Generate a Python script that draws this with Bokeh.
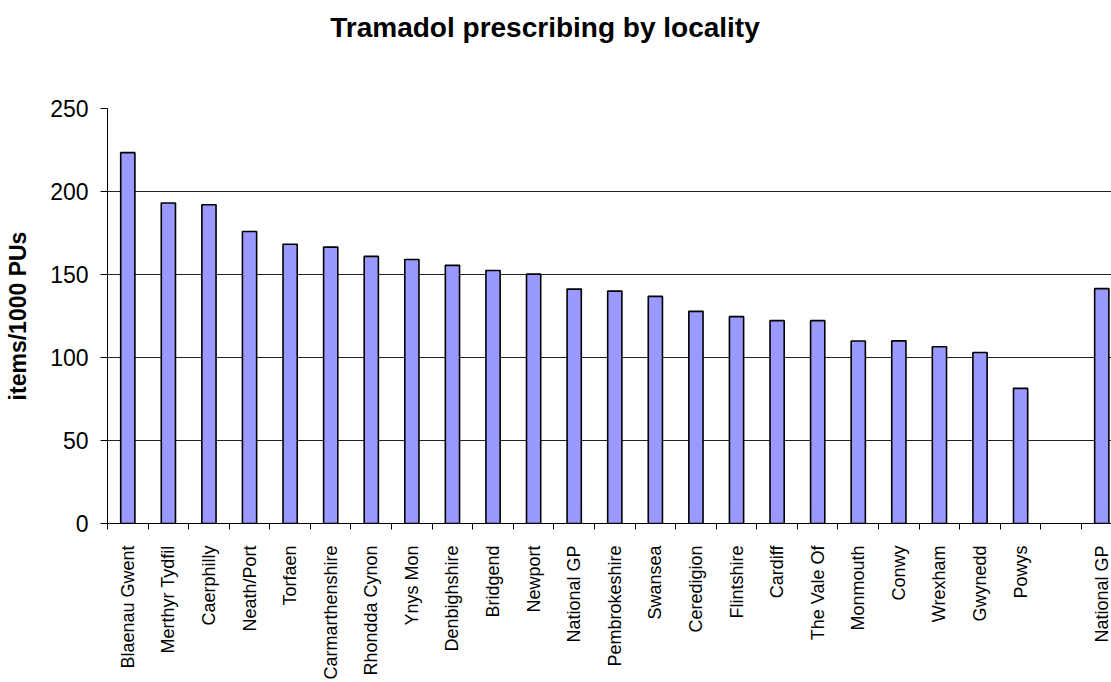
import math
from bokeh.plotting import figure
from bokeh.models import Range1d, FixedTicker, ColumnDataSource, Div
from bokeh.layouts import column
from bokeh.embed import file_html
from bokeh.resources import INLINE

title_text = "Tramadol prescribing by locality"
y_title = "items/1000 PUs"
categories = ["Blaenau Gwent", "Merthyr Tydfil", "Caerphilly", "Neath/Port", "Torfaen",
              "Carmarthenshire", "Rhondda Cynon", "Ynys Mon", "Denbighshire", "Bridgend",
              "Newport", "National GP", "Pembrokeshire", "Swansea", "Ceredigion",
              "Flintshire", "Cardiff", "The Vale Of", "Monmouth", "Conwy", "Wrexham",
              "Gwynedd", "Powys", "", "National GP"]
values = [223.4, 193.1, 192.0, 175.9, 168.2, 166.5, 160.9, 159.0, 155.5, 152.4,
          150.2, 141.2, 140.0, 136.8, 127.8, 124.6, 122.2, 122.2, 109.9, 110.0,
          106.5, 103.0, 81.4, None, 141.5]
y_ticks = [0, 50, 100, 150, 200, 250]

FONT = "Liberation Sans"
n = len(categories)
xs = [i for i, v in enumerate(values) if v is not None]
tops = [v for v in values if v is not None]
src = ColumnDataSource(dict(x=xs, top=tops))

title_div = Div(
    text=('<div style="width:1090px;text-align:center;font-family:\'Liberation Sans\',Arial,sans-serif;'
          'font-size:28px;font-weight:bold;color:black;line-height:32px;padding-top:12px;'
          'white-space:nowrap;">' + title_text + '</div>'),
    width=1111, height=50, margin=(0, 0, 0, 0))

# the frame runs slightly past the right edge of the picture, as in the original
p = figure(width=1111, height=632, output_backend="svg", toolbar_location=None,
           x_range=Range1d(-0.5, 24.24), y_range=Range1d(0, 250),
           min_border_left=107, min_border_right=0, min_border_top=58, min_border_bottom=158,
           margin=(0, 0, 0, 0))
p.outline_line_color = None
p.background_fill_color = "white"
p.border_fill_color = "white"

p.vbar(x="x", top="top", bottom=0, width=0.35, source=src,
       fill_color="#9999FF", line_color="black", line_width=1.6)

# y axis
ya = p.yaxis[0]
ya.ticker = FixedTicker(ticks=y_ticks, minor_ticks=[])
ya.axis_label = y_title
ya.axis_label_text_font = FONT
ya.axis_label_text_font_size = "23px"
ya.axis_label_text_font_style = "bold"
ya.axis_label_text_color = "black"
ya.axis_label_standoff = 16
ya.major_label_text_font = FONT
ya.major_label_text_font_size = "23px"
ya.major_label_text_color = "black"
ya.major_label_standoff = 12
ya.major_tick_out = 7
ya.major_tick_in = 0
ya.major_tick_line_color = "black"
ya.axis_line_color = "black"
ya.minor_tick_line_color = None

# x axis
xa = p.xaxis[0]
xa.ticker = FixedTicker(ticks=list(range(n)), minor_ticks=[i - 0.5 for i in range(n + 1)])
xa.major_label_overrides = {i: c for i, c in enumerate(categories)}
xa.major_label_orientation = math.pi / 2
xa.major_label_text_font = FONT
xa.major_label_text_font_size = "18px"
xa.major_label_text_color = "black"
xa.major_label_standoff = 16
xa.major_tick_line_color = None
xa.major_tick_out = 0
xa.major_tick_in = 0
xa.minor_tick_line_color = "black"
xa.minor_tick_out = 6
xa.minor_tick_in = 0
xa.axis_line_color = "black"

p.xgrid.grid_line_color = None
p.ygrid.ticker = FixedTicker(ticks=y_ticks)
p.ygrid.grid_line_color = "#222222"
p.ygrid.grid_line_width = 1

layout = column(title_div, p, spacing=0)
open("out.html", "w").write(file_html(layout, INLINE))
